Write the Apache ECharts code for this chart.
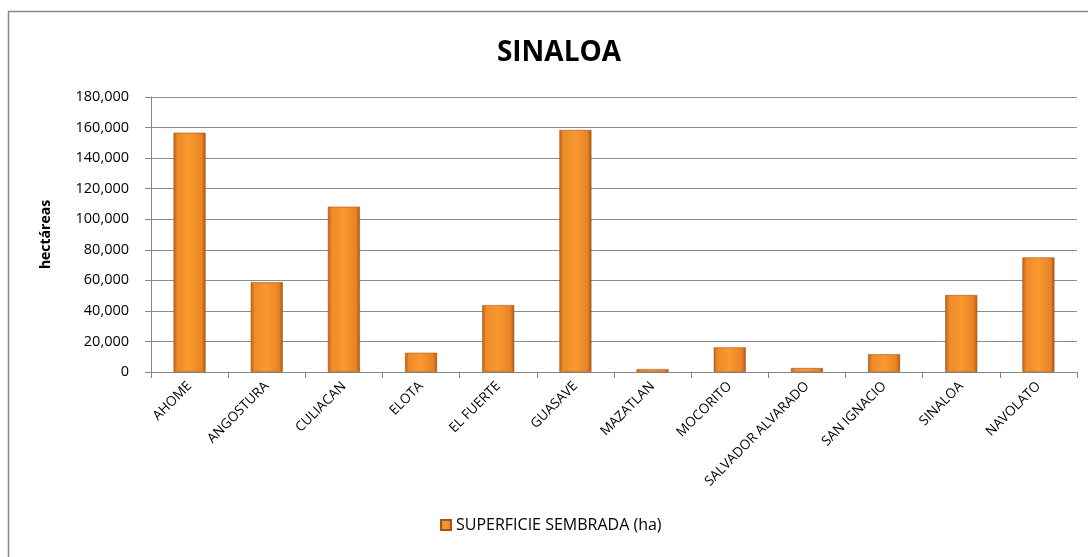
<!DOCTYPE html>
<html>
<head>
<meta charset="utf-8">
<script src="https://cdn.jsdelivr.net/npm/echarts@6/dist/echarts.min.js"></script>
<style>
  html, body { margin: 0; padding: 0; background: #fff; }
  #chart { width: 1088px; height: 557px; }
</style>
</head>
<body>
<div id="chart"></div>
<script>
// municipios y superficie sembrada (ha)
const municipios = ['AHOME', 'ANGOSTURA', 'CULIACAN', 'ELOTA', 'EL FUERTE', 'GUASAVE',
  'MAZATLAN', 'MOCORITO', 'SALVADOR ALVARADO', 'SAN IGNACIO', 'SINALOA', 'NAVOLATO'];
const superficie = [156600, 58700, 108200, 12600, 43800, 158400,
  1900, 16100, 2600, 11600, 50400, 75000];
const serieNombre = 'SUPERFICIE SEMBRADA (ha)';

const font = 'Open Sans, Noto Sans, sans-serif';
const chart = echarts.init(document.getElementById('chart'));

const barColor = new echarts.graphic.LinearGradient(0, 0, 1, 0, [
  { offset: 0, color: '#b9621a' },
  { offset: 0.12, color: '#ef8a28' },
  { offset: 0.5, color: '#f8992f' },
  { offset: 0.88, color: '#e98224' },
  { offset: 1, color: '#a85816' }
]);

const option = {
  backgroundColor: '#fff',
  animation: false,
  graphic: [{
    type: 'rect',
    shape: { x: 8.5, y: 11.5, width: 1200, height: 700 },
    style: { fill: 'none', stroke: '#868686', lineWidth: 1.5 },
    silent: true
  }],
  title: {
    text: 'SINALOA',
    left: 554,
    textAlign: 'center',
    top: 34,
    textStyle: { fontFamily: font, fontSize: 28, fontWeight: 'bold', color: '#000' }
  },
  legend: {
    bottom: 19,
    left: 435,
    itemWidth: 10,
    itemHeight: 10,
    itemGap: 6,
    icon: 'rect',
    textStyle: { fontFamily: font, fontSize: 16, color: '#000' },
    data: [serieNombre]
  },
  grid: { left: 151, right: 11, top: 97, bottom: 185 },
  xAxis: {
    type: 'category',
    data: municipios,
    axisLine: { lineStyle: { color: '#868686' } },
    axisTick: { show: true, alignWithLabel: false, length: 6, lineStyle: { color: '#868686' } },
    axisLabel: {
      interval: 0,
      rotate: 45,
      margin: 12,
      fontFamily: font,
      fontSize: 13.5,
      color: '#000'
    }
  },
  yAxis: {
    type: 'value',
    min: 0,
    max: 180000,
    interval: 20000,
    name: 'hectáreas',
    nameLocation: 'middle',
    nameGap: 98,
    nameTextStyle: { fontFamily: font, fontSize: 14, fontWeight: 'bold', color: '#000' },
    axisLine: { show: true, lineStyle: { color: '#868686' } },
    axisTick: { show: true, inside: false, length: 6, lineStyle: { color: '#868686' } },
    axisLabel: {
      margin: 22,
      fontFamily: font,
      fontSize: 14.5,
      color: '#000',
      formatter: v => v.toLocaleString('en-US')
    },
    splitLine: { lineStyle: { color: '#8c8c8c', width: 1 } }
  },
  series: [{
    name: serieNombre,
    type: 'bar',
    data: superficie,
    barWidth: 32,
    itemStyle: { color: barColor, borderColor: '#a35514', borderWidth: 0.6 }
  }]
};

chart.setOption(option);
</script>
</body>
</html>
